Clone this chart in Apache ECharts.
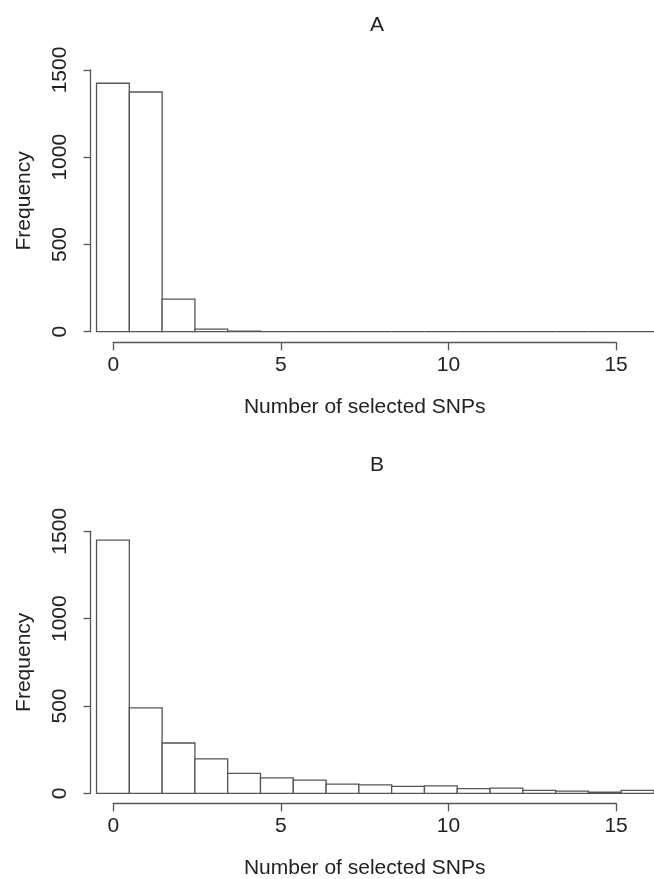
<!DOCTYPE html>
<html>
<head>
<meta charset="utf-8">
<script src="https://cdn.jsdelivr.net/npm/echarts@6/dist/echarts.min.js"></script>
<style>
  html, body { margin: 0; padding: 0; background: #fff; }
  #chart { width: 654px; height: 879px; }
</style>
</head>
<body>
<div id="chart"></div>
<script>
// bin centres (number of selected SNPs)
const bins = [0, 1, 2, 3, 4, 5, 6, 7, 8, 9, 10, 11, 12, 13, 14, 15, 16];
// panel A counts
const countsA = [1424, 1374, 187, 15, 3, 0, 0, 0, 0, 0, 0, 0, 0, 0, 0, 0, 0];
// panel B counts
const countsB = [1449, 489, 288, 197, 114, 88, 76, 53, 48, 40, 42, 27, 30, 17, 13, 7, 17];
const xTicks = [0, 5, 10, 15];
const yTicks = [0, 500, 1000, 1500];
const panelTitles = ['A', 'B'];
const xName = 'Number of selected SNPs';
const yName = 'Frequency';

const FONT = 'Liberation Sans';
const TEXT_COLOR = '#222';
const LINE_COLOR = '#555';
const PX_PER_UNIT = 33.52;
const X0 = 113.3; // pixel of x = 0

// panel layout: top of the 1500 tick, baseline, detached x axis line, title
const panels = [
  { top: 70, bottom: 331.7, xAxisY: 342.3, titleY: 10 },
  { top: 531.3, bottom: 793.3, xAxisY: 803.3, titleY: 450 },
];

const renderBar = (params, api) => {
  const x = api.value(0);
  const y = api.value(1);
  const p0 = api.coord([x - 0.5, y]);
  const p1 = api.coord([x + 0.5, 0]);
  return {
    type: 'rect',
    shape: { x: p0[0], y: p0[1], width: p1[0] - p0[0], height: p1[1] - p0[1] },
    style: { fill: '#fff', stroke: LINE_COLOR, lineWidth: 1.3 },
  };
};

const grid = [];
const xAxis = [];
const yAxis = [];
const series = [];
const title = [];

panels.forEach((p, i) => {
  const counts = i === 0 ? countsA : countsB;
  // plotting grid, x from -0.5 to 16.5
  grid.push({
    left: X0 - 0.5 * PX_PER_UNIT,
    width: 17 * PX_PER_UNIT,
    top: p.top,
    height: p.bottom - p.top,
  });
  // grid that only carries the detached x axis from 0 to 15
  grid.push({
    left: X0,
    width: 15 * PX_PER_UNIT,
    top: p.xAxisY,
    height: 0,
  });
  xAxis.push({
    type: 'value',
    gridIndex: i * 2,
    min: -0.5,
    max: 16.5,
    show: false,
  });
  xAxis.push({
    type: 'value',
    gridIndex: i * 2 + 1,
    min: xTicks[0],
    max: xTicks[xTicks.length - 1],
    interval: 5,
    position: 'bottom',
    axisLine: { show: true, onZero: false, lineStyle: { color: LINE_COLOR, width: 1.3 } },
    axisTick: { show: true, length: 8, lineStyle: { color: LINE_COLOR, width: 1.3 } },
    axisLabel: { show: true, margin: 12, fontSize: 21, color: TEXT_COLOR, fontFamily: FONT },
    splitLine: { show: false },
    name: xName,
    nameLocation: 'middle',
    nameGap: 54,
    nameTextStyle: { fontSize: 21, color: TEXT_COLOR, fontFamily: FONT },
  });
  yAxis.push({
    type: 'value',
    gridIndex: i * 2,
    min: yTicks[0],
    max: yTicks[yTicks.length - 1],
    interval: 500,
    offset: 6,
    axisLine: { show: true, onZero: false, lineStyle: { color: LINE_COLOR, width: 1.3 } },
    axisTick: { show: true, length: 7, lineStyle: { color: LINE_COLOR, width: 1.3 } },
    axisLabel: {
      rotate: 90,
      margin: 20,
      fontSize: 21,
      color: TEXT_COLOR,
      fontFamily: FONT,
      formatter: v => String(v),
    },
    splitLine: { show: false },
    name: yName,
    nameLocation: 'middle',
    nameGap: 56,
    nameRotate: 90,
    nameTextStyle: { fontSize: 21, color: TEXT_COLOR, fontFamily: FONT },
  });
  yAxis.push({
    type: 'value',
    gridIndex: i * 2 + 1,
    show: false,
  });
  series.push({
    type: 'custom',
    xAxisIndex: i * 2,
    yAxisIndex: i * 2,
    renderItem: renderBar,
    clip: false,
    silent: true,
    data: bins.map((b, k) => [b, counts[k]]),
  });
  title.push({
    text: panelTitles[i],
    left: 372,
    top: p.titleY,
    textAlign: 'center',
    textStyle: { fontSize: 21, fontWeight: 'normal', color: TEXT_COLOR, fontFamily: FONT },
  });
});

const chart = echarts.init(document.getElementById('chart'), null, { renderer: 'canvas' });
chart.setOption({
  animation: false,
  backgroundColor: '#fff',
  title,
  grid,
  xAxis,
  yAxis,
  series,
});
</script>
</body>
</html>
